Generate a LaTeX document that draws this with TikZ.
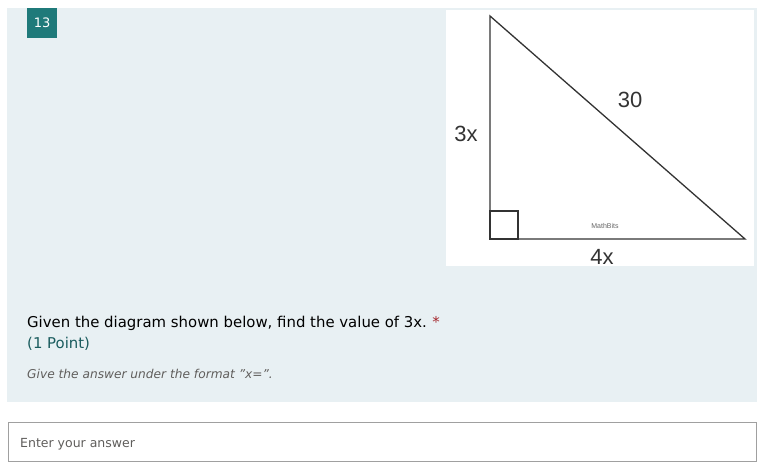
\documentclass[tikz,border=0pt]{standalone}
\usepackage{fontspec}
\setmainfont{DejaVu Sans}
\newfontfamily\arialfont{Liberation Sans}
\definecolor{panel}{HTML}{E8F0F3}
\definecolor{teal}{HTML}{1F7A7A}
\definecolor{darkteal}{HTML}{1A5C5E}
\definecolor{star}{HTML}{A4262C}
\definecolor{hint}{HTML}{605E5C}
\definecolor{boxline}{HTML}{A0A0A0}
\tikzset{
  tri/.style={line width=1.3pt, draw=black!80},
  lbl/.style={font=\arialfont\fontsize{22}{24}\selectfont, text=black!80, inner sep=0pt},
  qtext/.style={font=\fontsize{14.9}{18}\selectfont, inner sep=0pt, anchor=base west},
}
\begin{document}
\begin{tikzpicture}[x=1pt,y=-1pt]
\useasboundingbox (0,0) rectangle (769,466);
\fill[white] (0,0) rectangle (769,466);
% panel
\fill[panel] (7,8) rectangle (757,402);
% badge
\node[fill=teal, minimum width=30pt, minimum height=30pt, anchor=north west, inner sep=0pt, text=white, font=\fontsize{13}{15}\selectfont] (badge) at (27,8) {13};
% image
\fill[white] (446,10) rectangle (754,266);
\coordinate (A) at (490,16);
\coordinate (C) at (490,239);
\coordinate (B) at (745,239);
\draw[tri, line join=miter] (A) -- (C) -- (B) -- cycle;
\draw[line width=1.5pt, draw=black!80] (490,211) rectangle (518,239);
\node[lbl] (l3x) at (466,134) {3x};
\node[lbl] (l30) at (630,100) {30};
\node[lbl] (l4x) at (602,257) {4x};
\node[inner sep=0pt, font=\arialfont\fontsize{7}{8}\selectfont, text=black!60] (mb) at (605,226) {MathBits};
% question
\node[qtext] (q) at (27,327) {Given the diagram shown below, find the value of 3x.};
\node[qtext, text=star, anchor=base west] (st) at ([xshift=5pt]q.base east) {*};
\node[qtext, text=darkteal] (pt) at (27,348) {(1 Point)};
\node[qtext, text=hint, font=\itshape\fontsize{12.2}{14}\selectfont] (hint) at (27,378) {Give the answer under the format \symbol{34}x=\symbol{34}.};
% input box
\draw[boxline, fill=white, line width=0.8pt] (8,422) rectangle (756,461);
\node[inner sep=0pt, anchor=base west, text=hint, font=\fontsize{12.5}{14}\selectfont] (ans) at (20,447) {Enter your answer};
\end{tikzpicture}
\end{document}
